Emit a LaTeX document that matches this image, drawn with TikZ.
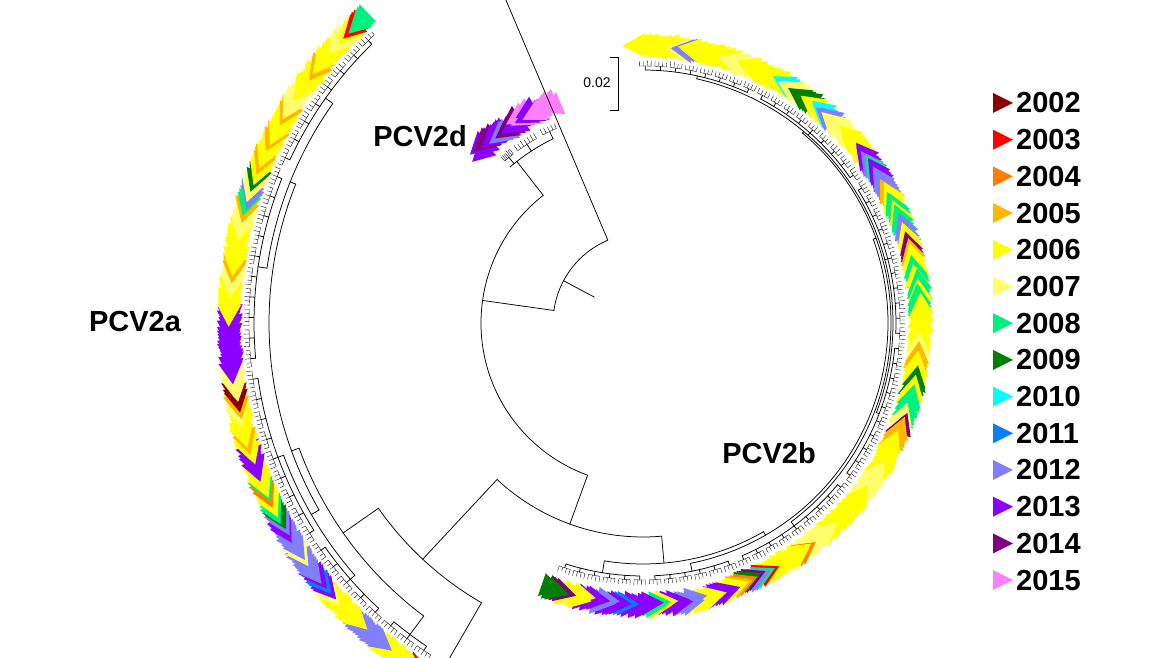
\documentclass[tikz,border=0pt]{standalone}
\usepackage{fontspec}
\setmainfont{Liberation Sans}
\definecolor{c02}{RGB}{140,0,0}
\definecolor{c03}{RGB}{255,0,0}
\definecolor{c04}{RGB}{255,128,0}
\definecolor{c05}{RGB}{255,183,0}
\definecolor{c06}{RGB}{255,255,0}
\definecolor{c07}{RGB}{255,255,110}
\definecolor{c08}{RGB}{0,240,128}
\definecolor{c09}{RGB}{0,128,0}
\definecolor{c10}{RGB}{0,255,255}
\definecolor{c11}{RGB}{0,128,255}
\definecolor{c12}{RGB}{128,128,255}
\definecolor{c13}{RGB}{140,0,255}
\definecolor{c14}{RGB}{128,0,128}
\definecolor{c15}{RGB}{255,128,255}
\tikzset{
  branch/.style={line width=0.75pt, black, line cap=round},
  twig/.style={line width=0.35pt, black},
  clade/.style={font=\fontsize{29}{29}\selectfont\bfseries, inner sep=0pt},
  yearlbl/.style={font=\fontsize{29}{29}\selectfont\bfseries, anchor=west, inner sep=0pt},
}
% arc of the tree: from angle, to angle, radius
\newcommand\brarc[3]{\draw[branch] (#1:#3) arc[start angle=#1, end angle=#2, radius=#3];}
% radial branch: angle, inner radius, outer radius
\newcommand\brline[3]{\draw[branch] (#1:#2) -- (#1:#3);}
% small comb of tips: first angle, last index, step, arc radius, tip radius
\newcommand\tipcomb[5]{%
  \pgfmathsetmacro\combend{#1+#2*#3}
  \draw[twig] (#1:#4) arc[start angle=#1, end angle=\combend, radius=#4];
  \foreach \j in {0,...,#2}{%
    \pgfmathsetmacro\tipa{#1+\j*#3}\pgfmathsetmacro\tipr{#5+2*rnd}
    \draw[twig] (\tipa:#4) -- (\tipa:\tipr);}}
% year marks: list from/to/colour, base radius, step, jitter
\newcommand\tipband[4]{%
  \foreach \a/\b/\col in {#1}{%
    \pgfmathtruncatemacro\nn{round((\a-\b)/#3)}
    \foreach \k in {0,...,\nn}{%
      \pgfmathsetmacro\tipang{\a-\k*#3}
      \pgfmathsetmacro\tiprad{#2+#4*rnd}
      \fill[\col, rotate=\tipang] (\tiprad,-11) -- ({\tiprad+24},-11) -- ({\tiprad+12},11) -- cycle;}}}
\begin{document}
\begin{tikzpicture}[x=1pt, y=1pt]
\useasboundingbox (0,0) rectangle (1163,658);
\clip (0,0) rectangle (1163,658);
\pgfmathsetseed{11}
\begin{scope}[shift={(643,335)}]
  % PCV2a marks
  \tipband{245/238/c06, 238/236.5/c03, 236.5/231/c06, 231/226.5/c12, 226.5/221.5/c06,
    221.5/220.5/c07, 220.5/219.5/c13, 219.5/218.5/c11, 218.5/217.5/c13, 217.5/214.5/c12,
    214.5/213.5/c07, 213.5/210.5/c12, 210.5/209.5/c13, 209.5/208.5/c12, 208.5/207.5/c09,
    207.5/206.5/c08, 206.5/205/c06, 205/204/c04, 204/203.5/c08, 203.5/201/c06,
    201/198.5/c13, 198.5/197/c06, 197/196/c05, 196/193/c06, 193/192/c07, 192/191/c05,
    191/189.5/c02, 189.5/187/c07, 187/179/c13, 179/175/c06, 175/173/c07, 173/172/c05,
    172/167/c06, 167/164.5/c07, 164.5/163.5/c05, 163.5/162.5/c08, 162.5/161.5/c12,
    161.5/160/c07, 160/159/c09, 159/157.5/c06, 157.5/156.5/c05, 156.5/154/c06,
    154/153/c05, 153/150/c06, 150/149/c05, 149/146/c07, 146/142.5/c06, 142.5/141.5/c05,
    141.5/138/c06, 138/136/c07, 136/135/c06, 135/134/c03, 134/133/c08}{400}{0.45}{3}
  % PCV2b marks
  \tipband{452/443/c06, 443/442/c07, 442/440.5/c12, 440.5/432/c06, 432/428/c07,
    428/420/c06, 420/418.5/c10, 418.5/416/c07, 416/413/c09, 413/410.5/c06, 410.5/409/c10,
    409/407.5/c12, 407.5/403/c07, 403/398/c06, 398/396/c13, 396/395/c12, 395/394/c08,
    394/392/c13, 392/389/c12, 389/388/c05, 388/386/c06, 386/384/c08, 384/383/c06,
    383/381/c08, 381/379/c12, 379/377/c06, 377/375.5/c14, 375.5/374.5/c05, 374.5/372/c06,
    372/370/c08, 370/369/c06, 369/367/c08, 367/366/c06, 366/364/c08, 364/356/c06,
    356/354/c07, 354/352/c05, 352/349/c06, 349/347/c09, 347/345/c06, 345/341/c08,
    341/339/c07, 339/338/c14, 338/335/c05, 335/328/c06, 328/322/c07, 322/312/c06,
    312/306/c07, 306/305/c04, 305/297/c06, 297/296/c03, 296/295/c08, 295/294/c12,
    294/293/c14, 293/292/c09, 292/291/c04, 291/290/c05}{264}{0.7}{3}
  \tipband{290/288/c06, 288/285/c13, 285/281/c06, 281/278/c12, 278/275/c13,
    275/273.5/c06, 273.5/272/c08, 272/267/c13, 267/265.5/c11, 265.5/263/c13,
    263/261/c12, 261/258/c13, 258/254/c06, 254/252.5/c14, 252.5/251/c09}{267}{0.7}{5}
  % PCV2d marks
  \tipband{134/132/c13, 132/130/c14, 130/128/c13, 128/126/c12, 126/124/c14,
    124/122/c13, 122/120/c15, 120/118/c13, 118/113/c15}{222}{0.8}{8}
  % backbone
  \brline{152}{55}{90}
  \brarc{113}{172}{90}
  \brline{113}{90}{420}
  \brline{172}{90}{162}
  \brarc{128}{250}{162}
  \brline{250}{162}{214}
  \brarc{227}{275}{214}
  \brline{227}{214}{323}
  \brarc{215}{240}{323}
  \brline{240}{323}{420}
  \brline{215}{323}{366}
  % PCV2a
  \foreach \k in {0,...,34}{\pgfmathsetmacro\ca{133+3*\k}\pgfmathsetmacro\cm{\ca+1.2}
    \tipcomb{\ca}{4}{0.6}{394}{398}
    \brline{\cm}{389}{394}}
  \foreach \ka/\kb in {0/7, 8/17, 18/26, 27/31, 32/34}{%
    \pgfmathsetmacro\gbeg{134.2+3*\ka}\pgfmathsetmacro\gend{134.2+3*\kb}
    \brarc{\gbeg}{\gend}{389}}
  \brarc{144.7}{171.7}{380}
  \brline{144.7}{380}{389}
  \brline{171.7}{380}{389}
  \brline{158.2}{374}{380}
  \brarc{200.2}{221.2}{383}
  \brline{200.2}{383}{389}
  \brline{221.2}{383}{389}
  \brline{210}{374}{383}
  \brarc{158.2}{210}{374}
  \brline{200}{366}{374}
  \brarc{200}{233.2}{366}
  \brline{233.2}{366}{389}
  % PCV2b
  \foreach \k in {0,...,58}{\pgfmathsetmacro\ca{251+3.4*\k}\pgfmathsetmacro\cm{\ca+1.275}
    \tipcomb{\ca}{3}{0.85}{257}{261}
    \brline{\cm}{253}{257}}
  \foreach \ka/\kb in {0/5, 6/11, 12/20, 21/30, 31/41, 42/50, 51/58}{%
    \pgfmathsetmacro\gbeg{252.275+3.4*\ka}\pgfmathsetmacro\gend{252.275+3.4*\kb}
    \brarc{\gbeg}{\gend}{253}}
  \brline{275}{214}{241}
  \brarc{260.775}{300}{241}
  \brline{260.775}{241}{253}
  \brline{300}{241}{245}
  \brarc{281.175}{380}{245}
  \brline{281.175}{245}{253}
  \brline{380}{245}{248}
  \brarc{306.675}{410}{248}
  \brline{306.675}{248}{253}
  \brline{410}{248}{250}
  \brarc{338.975}{437.575}{250}
  \foreach \m in {338.975, 374.675, 408.675, 437.575}{\brline{\m}{250}{253}}
  % PCV2d
  \brline{128}{162}{205}
  \brarc{116}{130.5}{205}
  \tipcomb{114}{4}{1}{213}{218}
  \tipcomb{120}{6}{1}{213}{218}
  \tipcomb{127.5}{6}{0.5}{213}{218}
  \foreach \m in {116, 123, 129}{\brline{\m}{205}{213}}
\end{scope}
% clade labels
\node[clade] (lblA) at (135,336) {PCV2a};
\node[clade] (lblB) at (769,205) {PCV2b};
\node[clade] (lblD) at (420,522) {PCV2d};
% scale bar
\node[font=\fontsize{14}{14}\selectfont, inner sep=0pt] (scl) at (597,575) {0.02};
\draw[line width=0.8pt] (610,601) -- (618,601) -- (618,548) -- (610,548);
% legend
\foreach \i/\col in {0/c02, 1/c03, 2/c04, 3/c05, 4/c06, 5/c07, 6/c08, 7/c09,
                     8/c10, 9/c11, 10/c12, 11/c13, 12/c14, 13/c15}{%
  \pgfmathsetmacro\ly{555-36.7*\i}
  \pgfmathtruncatemacro\yr{2002+\i}
  \fill[\col] (993,{\ly+10}) -- (993,{\ly-10}) -- (1013,\ly) -- cycle;
  \node[yearlbl] (y\yr) at (1016,\ly) {\yr};
}
\end{tikzpicture}
\end{document}
